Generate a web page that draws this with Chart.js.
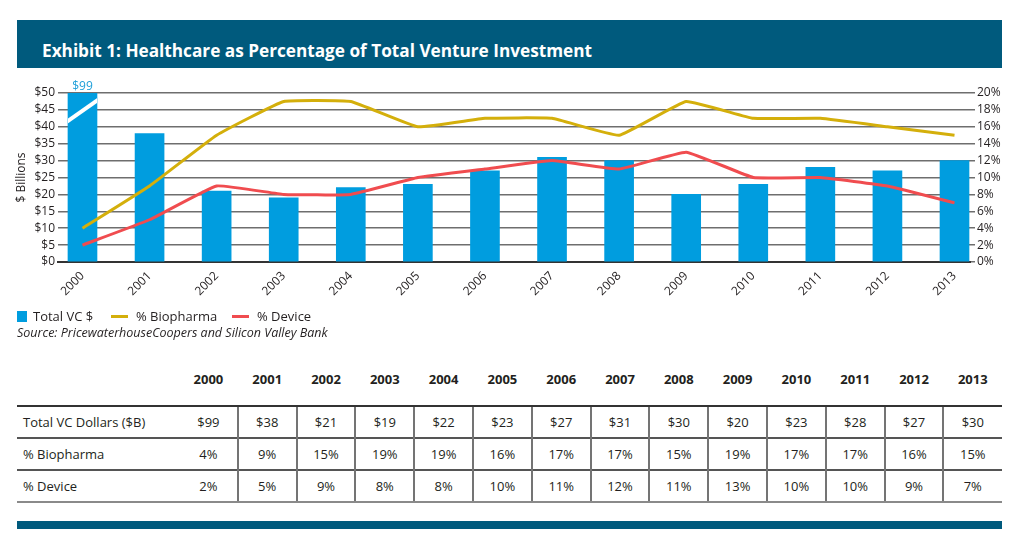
<!DOCTYPE html>
<html><head><meta charset="utf-8">
<script src="https://cdn.jsdelivr.net/npm/chart.js@4.4.0/dist/chart.umd.min.js"></script>
<style>
body{margin:0;background:#fff;width:1014px;height:557px;overflow:hidden;position:relative;font-family:"Open Sans",sans-serif;color:#231f20}
.abs{position:absolute;white-space:nowrap}
#hdr{left:17px;top:20px;width:985px;height:48px;background:#005a7d}
#title{left:42px;top:41.5px;line-height:17px;font-size:17px;font-weight:bold;color:#fff;transform-origin:left center;display:inline-block}
#cwrap{left:0;top:70px;width:1014px;height:240px}
.lg{font-size:13px;line-height:20px;top:306px}
#src{left:17px;top:323px;font-size:12.5px;line-height:20px;font-style:italic}
.cell{font-size:13px;line-height:20px;text-align:center}
.hcell{font-size:13px;font-weight:bold;line-height:20px;text-align:center}
#foot{left:17px;top:521px;width:985px;height:8px;background:#005a7d}
</style></head>
<body>
<div id="hdr" class="abs"></div>
<div id="title" class="abs">Exhibit 1: Healthcare as Percentage of Total Venture Investment</div>
<div id="cwrap" class="abs"><canvas id="c" width="1014" height="240"></canvas></div>
<div class="abs" style="left:17px;top:311px;width:10px;height:11px;background:#009ddf"></div>
<div class="abs lg" style="left:33px">Total VC $</div>
<div class="abs" style="left:111px;top:315px;width:17px;height:3px;background:#d4af0b"></div>
<div class="abs lg" style="left:136px">% Biopharma</div>
<div class="abs" style="left:232px;top:315px;width:17px;height:3px;background:#f04c4f"></div>
<div class="abs lg" style="left:257px">% Device</div>
<div id="src" class="abs">Source: PricewaterhouseCoopers and Silicon Valley Bank</div>
<div id="tbl"></div>
<div id="foot" class="abs"></div>
<script>
const years = ['2000','2001','2002','2003','2004','2005','2006','2007','2008','2009','2010','2011','2012','2013'];
const vcDollars = [99,38,21,19,22,23,27,31,30,20,23,28,27,30];
const biopharmaPct = [4,9,15,19,19,16,17,17,15,19,17,17,16,15];
const devicePct = [2,5,9,8,8,10,11,12,11,13,10,10,9,7];
const rowLabels = ['Total VC Dollars ($B)','% Biopharma','% Device'];
const dollarMax = 50, dollarStep = 5;
const pctMax = 20, pctStep = 2;

// fit title width
(function(){
  const t = document.getElementById('title');
  const w = t.getBoundingClientRect().width;
  t.style.transform = 'scaleX(' + (550 / w) + ')';
})();

// table
(function(){
  const tbl = document.getElementById('tbl');
  const L = 17, labelW = 162, colW = 58.8, right = 1002;
  const add = (html, css, cls) => { const d = document.createElement('div'); d.className = 'abs ' + (cls||''); d.style.cssText = css; d.textContent = html; tbl.appendChild(d); };
  years.forEach((y,i) => add(y, `left:${L+labelW+i*colW}px;width:${colW}px;top:369px`, 'hcell'));
  add('', `left:${L}px;top:405px;width:${right-L}px;height:2px;background:#333`);
  const rowsY = [407, 439, 471];
  const lineColors = ['#555','#555','#8a8a8a'];
  rowsY.forEach((ry, r) => {
    add('', `left:${L}px;top:${ry+30}px;width:${right-L}px;height:2px;background:${lineColors[r]}`);
    add(rowLabels[r], `left:${L+6}px;top:${ry+5}px;font-size:13px;line-height:20px`);
  });
  for (let k = 1; k < years.length; k++) {
    add('', `left:${L+labelW+k*colW-1}px;top:407px;width:2px;height:94px;background:#747474`);
  }
  const rowVals = [vcDollars.map(v=>'$'+v), biopharmaPct.map(v=>v+'%'), devicePct.map(v=>v+'%')];
  rowVals.forEach((vals, r) => vals.forEach((v,i) => add(v, `left:${L+labelW+i*colW}px;width:${colW}px;top:${rowsY[r]+5}px`, 'cell')));
})();

const breakPlugin = {
  id: 'breakMark',
  afterDatasetsDraw(chart) {
    const bar = chart.getDatasetMeta(0).data[0];
    const y = chart.scales.y;
    const ctx = chart.ctx;
    const half = bar.width / 2;
    ctx.save();
    ctx.beginPath();
    ctx.rect(bar.x - half, chart.chartArea.top, bar.width, chart.chartArea.bottom - chart.chartArea.top);
    ctx.clip();
    ctx.strokeStyle = '#fff';
    ctx.lineWidth = 4;
    ctx.beginPath();
    ctx.moveTo(bar.x - half - 1, y.getPixelForValue(41.5));
    ctx.lineTo(bar.x + half + 1, y.getPixelForValue(48));
    ctx.stroke();
    ctx.restore();
    ctx.save();
    ctx.fillStyle = '#1e9fd9';
    ctx.font = '12px "Open Sans"';
    ctx.textAlign = 'center';
    ctx.textBaseline = 'alphabetic';
    ctx.fillText('$' + vcDollars[0], bar.x, chart.chartArea.top - 3);
    ctx.restore();
  }
};

const pts = arr => arr.map((v,i) => ({x:i, y:v}));
const tickFont = {family:'"Open Sans"', size:12};
new Chart(document.getElementById('c'), {
  type: 'bar',
  data: {
    datasets: [
      {type:'bar', label:'Total VC $', data:pts(vcDollars), backgroundColor:'#009ddf', barThickness:29, yAxisID:'y', order:2, clip:0},
      {type:'line', label:'% Biopharma', data:pts(biopharmaPct), borderColor:'#d4af0b', borderWidth:3, pointRadius:0, tension:0.1, yAxisID:'y2', order:1, fill:false},
      {type:'line', label:'% Device', data:pts(devicePct), borderColor:'#f04c4f', borderWidth:3, pointRadius:0, tension:0.1, yAxisID:'y2', order:1, fill:false}
    ]
  },
  options: {
    responsive:false, animation:false, devicePixelRatio:1,
    layout:{padding:{top:23, left:0, right:0, bottom:0}},
    plugins:{legend:{display:false}, tooltip:{enabled:false}},
    scales:{
      x:{type:'linear', min:-0.365, max:13.231, offset:false,
         afterBuildTicks: s => { s.ticks = years.map((_,i)=>({value:i})); },
         afterFit: s => { s.height = 48; },
         grid:{display:false, drawTicks:false},
         border:{display:true, color:'#333', width:2},
         ticks:{callback: v => years[v], minRotation:45, maxRotation:45, autoSkip:false, padding:7, color:'#231f20', font:tickFont}},
      y:{position:'left', min:0, max:dollarMax,
         afterFit: s => { s.width = 58; },
         grid:{color:'#6e6e6e', lineWidth:1.5, drawTicks:false},
         border:{display:false},
         ticks:{stepSize:dollarStep, autoSkip:false, padding:3, color:'#231f20', font:tickFont, callback: v => '$' + v},
         title:{display:true, text:'$ Billions', color:'#231f20', font:{family:'"Open Sans"', size:12}, padding:{top:14, bottom:0}}},
      y2:{position:'right', min:0, max:pctMax,
         afterFit: s => { s.width = 44; },
         grid:{drawOnChartArea:false, drawTicks:true, tickLength:5, color:'#6e6e6e', lineWidth:1.5},
         border:{display:false},
         ticks:{stepSize:pctStep, autoSkip:false, padding:2, color:'#231f20', font:tickFont, callback: v => v + '%'}}
    }
  },
  plugins:[breakPlugin]
});
</script>
</body></html>
